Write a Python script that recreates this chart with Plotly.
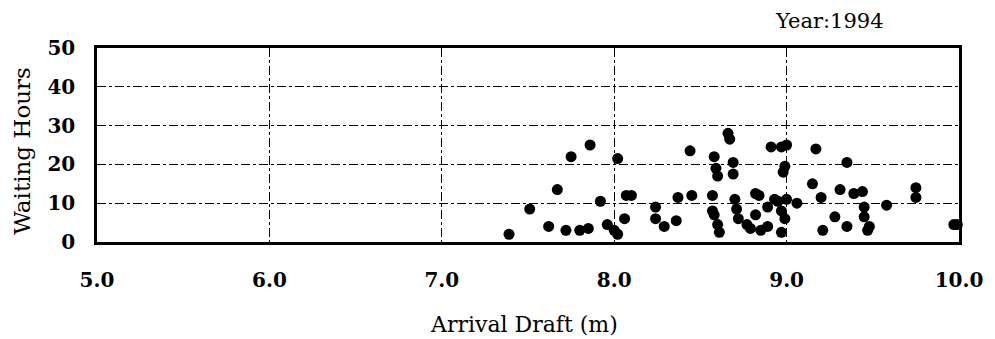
import plotly.graph_objects as go

# Arrival draft (m) and waiting time (hours) of ships arriving in 1994
draft = [7.39, 7.51, 7.62, 7.67, 7.72, 7.75, 7.80, 7.85, 7.86, 7.92, 7.96, 8.00,
         8.02, 8.02, 8.06, 8.07, 8.10, 8.24, 8.24, 8.29, 8.36, 8.37, 8.45, 8.44,
         8.57, 8.57, 8.58, 8.59, 8.60, 8.60, 8.61, 8.58, 8.66, 8.67, 8.69, 8.69,
         8.70, 8.71, 8.72, 8.77, 8.79, 8.82, 8.82, 8.84, 8.85, 8.89, 8.89, 8.91,
         8.93, 8.95, 8.97, 8.97, 8.97, 8.99, 8.99, 8.98, 9.00, 9.00, 9.06, 9.15,
         9.17, 9.20, 9.21, 9.28, 9.31, 9.35, 9.35, 9.39, 9.44, 9.45, 9.45, 9.47,
         9.48, 9.58, 9.75, 9.75, 9.97, 9.99]
wait = [2.0, 8.5, 4.0, 13.5, 3.0, 22.0, 3.0, 3.5, 25.0, 10.5, 4.5, 3.0,
        21.5, 2.0, 6.0, 12.0, 12.0, 9.0, 6.0, 4.0, 5.5, 11.5, 12.0, 23.5,
        12.0, 8.0, 22.0, 19.0, 17.0, 4.5, 2.5, 7.0, 28.0, 26.5, 20.5, 17.5,
        11.0, 8.5, 6.0, 4.5, 3.5, 12.5, 7.0, 12.0, 3.0, 9.0, 4.0, 24.5,
        11.0, 10.5, 24.5, 8.0, 2.5, 6.0, 19.5, 18.0, 25.0, 11.0, 10.0, 15.0,
        24.0, 11.5, 3.0, 6.5, 13.5, 20.5, 4.0, 12.5, 13.0, 9.0, 6.5, 3.0,
        4.0, 9.5, 14.0, 11.5, 4.5, 4.5]

x_ticks = [5.0, 6.0, 7.0, 8.0, 9.0, 10.0]
x_tick_text = ["5.0", "6.0", "7.0", "8.0", "9.0", "10.0"]
y_ticks = [0, 10, 20, 30, 40, 50]

serif = "DejaVu Serif"

fig = go.Figure()
fig.add_trace(go.Scatter(
    x=draft, y=wait, mode="markers",
    marker=dict(size=11, color="black", line=dict(width=0)),
    showlegend=False, cliponaxis=False,
))

fig.update_layout(
    width=995, height=339,
    margin=dict(l=97, r=33, t=48, b=97),
    paper_bgcolor="white", plot_bgcolor="white",
    font=dict(family=serif, color="black"),
)

fig.update_xaxes(
    range=[5.0, 10.0], tickvals=x_ticks, ticktext=x_tick_text,
    showgrid=True, gridcolor="black", gridwidth=1, griddash="dashdot",
    showline=True, linecolor="black", linewidth=2.5, mirror=True,
    zeroline=False, ticks="", ticklabelstandoff=18,
    tickfont=dict(family=serif, size=20, weight="bold"),
)
fig.update_yaxes(
    range=[0, 50], tickvals=y_ticks,
    showgrid=True, gridcolor="black", gridwidth=1, griddash="dashdot",
    showline=True, linecolor="black", linewidth=2.5, mirror=True,
    zeroline=False, ticks="", ticklabelstandoff=15,
    tickfont=dict(family=serif, size=20, weight="bold"),
)

fig.add_annotation(
    text="Waiting Hours", textangle=-90, xref="paper", yref="paper",
    x=-0.087, y=0.47, xanchor="center", yanchor="middle", showarrow=False,
    font=dict(family=serif, size=23),
)
fig.add_annotation(
    text="Arrival Draft (m)", xref="paper", yref="paper",
    x=0.495, y=-0.425, xanchor="center", yanchor="middle", showarrow=False,
    font=dict(family=serif, size=22),
)
fig.add_annotation(
    text="Year:1994", xref="paper", yref="paper",
    x=0.85, y=1.14, xanchor="center", yanchor="middle", showarrow=False,
    font=dict(family=serif, size=21),
)

fig.write_html("out.html")
